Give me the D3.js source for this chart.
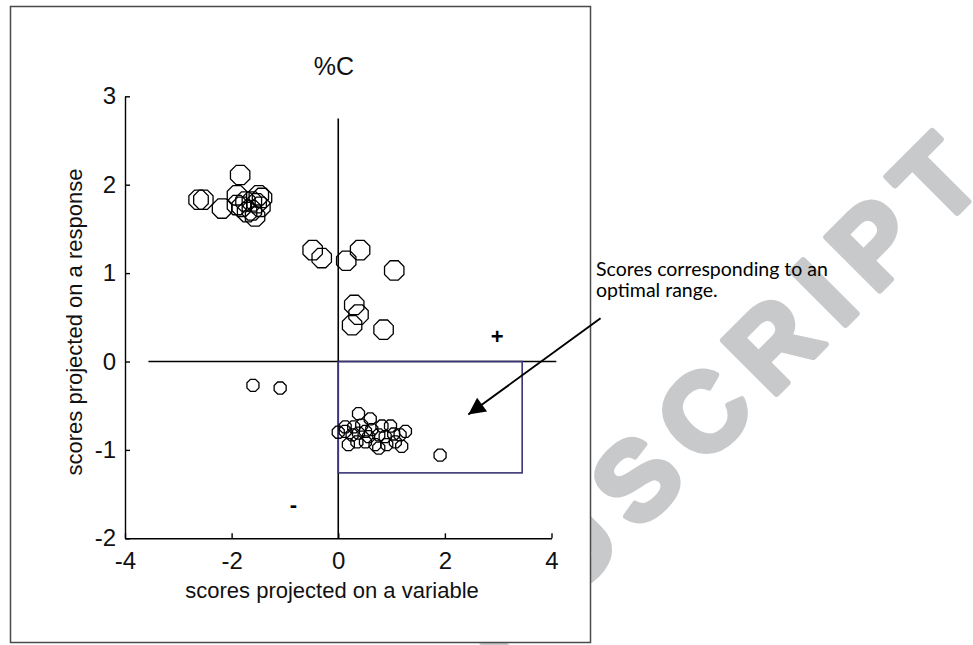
<!DOCTYPE html>
<html>
<head>
<meta charset="utf-8">
<script src="https://cdn.jsdelivr.net/npm/d3@7"></script>
<style>
  body { margin: 0; background: #fff; }
  svg { display: block; }
</style>
</head>
<body>
<svg id="chart" width="973" height="645"></svg>
<script>
// large markers (upper groups)
const bigX = [-1.84, -2.62, -2.53, -2.18, -1.90, -1.90, -1.81, -1.62, -1.49, -1.43, -1.46, -1.56, -1.71, -1.62, -1.74, -1.53,
              -0.48, -0.31, 0.15, 0.41, 1.05, 0.30, 0.38, 0.26, 0.85]
const bigY = [2.11, 1.83, 1.83, 1.73, 1.88, 1.77, 1.75, 1.81, 1.88, 1.85, 1.75, 1.64, 1.69, 1.71, 1.81, 1.79,
              1.26, 1.17, 1.14, 1.26, 1.03, 0.64, 0.53, 0.41, 0.36]
// small markers (lower points)
const smallX = [-1.60, -1.09,
                0.38, 0.60, 0.82, 0.98, 0.00, 0.13, 0.26, 0.38, 0.51, 0.63, 0.76, 0.88, 1.04, 1.16, 1.26,
                0.19, 0.35, 0.51, 0.69, 0.76, 0.91, 1.19, 1.07, 0.13, 0.29, 0.44, 0.57, 1.91]
const smallY = [-0.27, -0.30,
                -0.59, -0.65, -0.73, -0.73, -0.80, -0.79, -0.83, -0.81, -0.79, -0.77, -0.83, -0.85, -0.82, -0.83, -0.79,
                -0.94, -0.91, -0.91, -0.94, -0.98, -0.94, -0.96, -0.91, -0.74, -0.74, -0.72, -0.85, -1.06]

const xTicks = [-4, -2, 0, 2, 4]
const yTicks = [-2, -1, 0, 1, 2, 3]
const crossH = [-3.56, 4.09]
const crossV = [-2, 2.75]
const regionX = [0, 3.45]
const regionY = [-1.26, 0]
const signs = [{t: "+", x: 2.98, y: 0.29}, {t: "-", x: -0.84, y: -1.62}]
const arrowFrom = [4.92, 0.49], arrowTo = [2.44, -0.6]
const noteLines = ["Scores corresponding to an", "optimal range."]

let svg = d3.select("#chart")

let x = d3.scaleLinear().domain([-4, 4]).range([125, 551.5])
let y = d3.scaleLinear().domain([-2, 3]).range([538.3, 96.3])

// watermark, partly hidden behind the figure
svg.append("text")
    .attr("transform", "translate(935,180) rotate(-45)")
    .attr("x", 52)
    .attr("y", 39)
    .attr("text-anchor", "end")
    .attr("font-family", "Liberation Sans, Arial, sans-serif")
    .attr("font-weight", "bold")
    .attr("font-size", 110)
    .attr("letter-spacing", 18)
    .attr("fill", "#c8c9cb")
    .attr("stroke", "#c8c9cb")
    .attr("stroke-width", 6)
    .attr("stroke-linejoin", "round")
    .text("MANUSCRIPT")

svg.append("rect")
    .attr("x", 10.5).attr("y", 6.5)
    .attr("width", 580).attr("height", 636)
    .attr("fill", "#fff")
    .attr("stroke", "#4a4a4a")
    .attr("stroke-width", 1.5)

const octagon = {
    draw(ctx, size) {
        let r = Math.sqrt(size / Math.PI)
        for (let i = 0; i < 8; i++) {
            let a = Math.PI / 8 + i * Math.PI / 4
            if (i === 0) ctx.moveTo(r * Math.cos(a), r * Math.sin(a))
            else ctx.lineTo(r * Math.cos(a), r * Math.sin(a))
        }
        ctx.closePath()
    }
}

const font = "Liberation Sans, Arial, sans-serif"

let xAxis = svg.append("g")
    .attr("transform", `translate(0,${y(-2)})`)
    .call(d3.axisBottom(x).tickValues(xTicks).tickSize(-5).tickSizeOuter(0).tickPadding(14))
let yAxis = svg.append("g")
    .attr("transform", `translate(${x(-4)},0)`)
    .call(d3.axisLeft(y).tickValues(yTicks).tickSize(-5).tickSizeOuter(0).tickPadding(9))

svg.selectAll(".domain, .tick line").attr("stroke", "#000").attr("stroke-width", 1.4)
svg.selectAll(".tick text")
    .attr("font-family", font)
    .attr("font-size", 24)
    .attr("fill", "#111")
    .text(d => d < 0 ? "-" + Math.abs(d) : d)

svg.append("text")
    .attr("x", 334).attr("y", 75)
    .attr("text-anchor", "middle")
    .attr("font-family", font)
    .attr("font-size", 25)
    .attr("fill", "#111")
    .text("%C")

svg.append("text")
    .attr("x", 332).attr("y", 598)
    .attr("text-anchor", "middle")
    .attr("font-family", font)
    .attr("font-size", 22)
    .attr("fill", "#111")
    .text("scores projected on a variable")

svg.append("text")
    .attr("transform", "translate(82,322) rotate(-90)")
    .attr("text-anchor", "middle")
    .attr("font-family", font)
    .attr("font-size", 22)
    .attr("fill", "#111")
    .text("scores projected on a response")

// cross lines through the origin
svg.append("line")
    .attr("x1", x(crossH[0])).attr("x2", x(crossH[1]))
    .attr("y1", y(0)).attr("y2", y(0))
    .attr("stroke", "#000").attr("stroke-width", 1.6)
svg.append("line")
    .attr("x1", x(0)).attr("x2", x(0))
    .attr("y1", y(crossV[0])).attr("y2", y(crossV[1]))
    .attr("stroke", "#000").attr("stroke-width", 1.6)

svg.append("rect")
    .attr("x", x(regionX[0])).attr("y", y(regionY[1]))
    .attr("width", x(regionX[1]) - x(regionX[0]))
    .attr("height", y(regionY[0]) - y(regionY[1]))
    .attr("fill", "none")
    .attr("stroke", "#3a3577")
    .attr("stroke-width", 1.6)

svg.append("g")
    .selectAll("path")
    .data(d3.zip(bigX, bigY))
    .enter()
    .append("path")
    .attr("transform", d => `translate(${x(d[0])},${y(d[1])})`)
    .attr("d", d3.symbol().type(octagon).size(346))
    .attr("fill", "none")
    .attr("stroke", "#000")
    .attr("stroke-width", 1.3)

svg.append("g")
    .selectAll("path")
    .data(d3.zip(smallX, smallY))
    .enter()
    .append("path")
    .attr("transform", d => `translate(${x(d[0])},${y(d[1])})`)
    .attr("d", d3.symbol().type(octagon).size(133))
    .attr("fill", "none")
    .attr("stroke", "#000")
    .attr("stroke-width", 1.3)

svg.selectAll("text.sign")
    .data(signs).enter()
    .append("text")
    .attr("class", "sign")
    .attr("x", d => x(d.x)).attr("y", d => y(d.y))
    .attr("dy", "0.35em")
    .attr("text-anchor", "middle")
    .attr("font-family", font)
    .attr("font-weight", "bold")
    .attr("font-size", 22)
    .text(d => d.t)

svg.append("defs").append("marker")
    .attr("id", "head")
    .attr("viewBox", "0 0 10 10")
    .attr("refX", 10).attr("refY", 5)
    .attr("markerUnits", "userSpaceOnUse")
    .attr("markerWidth", 22).attr("markerHeight", 17)
    .attr("orient", "auto")
    .append("path")
    .attr("d", "M0,0L10,5L0,10Z")
    .attr("fill", "#000")

svg.append("line")
    .attr("x1", x(arrowFrom[0])).attr("y1", y(arrowFrom[1]))
    .attr("x2", x(arrowTo[0])).attr("y2", y(arrowTo[1]))
    .attr("stroke", "#000")
    .attr("stroke-width", 2)
    .attr("marker-end", "url(#head)")

svg.append("text")
    .attr("font-family", "Lato, Open Sans, sans-serif")
    .attr("font-size", 19.5)
    .attr("fill", "#000")
    .selectAll("tspan")
    .data(noteLines).enter()
    .append("tspan")
    .attr("x", 596)
    .attr("y", (d, i) => 276 + i * 21)
    .text(d => d)
</script>
</body>
</html>
